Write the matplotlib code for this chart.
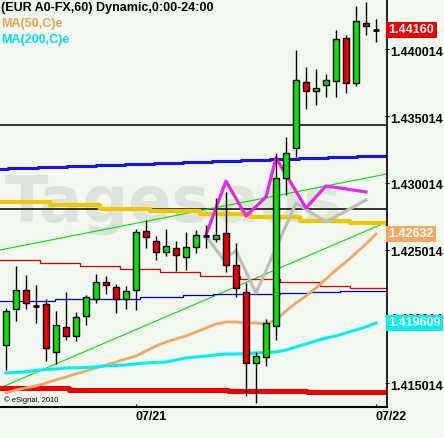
import matplotlib
matplotlib.use('Agg')
import matplotlib.pyplot as plt
import matplotlib.transforms as mtransforms
import numpy as np

# EUR A0-FX hourly candles (07/20 10:00 .. 07/22 00:00)
opens = [1.41788, 1.42058, 1.42200, 1.42080, 1.42095, 1.41735, 1.41923, 1.41855, 1.42005, 1.42132,
         1.42260, 1.42222, 1.42132, 1.42200, 1.42642, 1.42567, 1.42485, 1.42514, 1.42447, 1.42522,
         1.42604, 1.42582, 1.42627, 1.42387, 1.42185, 1.41653, 1.41698, 1.41930, 1.43039, 1.43264,
         1.43758, 1.43691, 1.43735, 1.43765, 1.44088, 1.43750, 1.44200, 1.44148]
highs = [1.42065, 1.42380, 1.42312, 1.42237, 1.42132, 1.42043, 1.42185, 1.42035, 1.42162, 1.42320,
         1.42305, 1.42245, 1.42230, 1.42657, 1.42724, 1.42604, 1.42657, 1.42567, 1.42634, 1.42649,
         1.42687, 1.42889, 1.42934, 1.42552, 1.42252, 1.41735, 1.41983, 1.43226, 1.43346, 1.43998,
         1.43870, 1.43855, 1.43818, 1.44148, 1.44110, 1.44327, 1.44357, 1.44230]
lows = [1.41601, 1.41968, 1.42058, 1.41953, 1.41668, 1.41646, 1.41825, 1.41818, 1.41938, 1.42102,
        1.42170, 1.42028, 1.42058, 1.42050, 1.42514, 1.42425, 1.42455, 1.42342, 1.42350, 1.42477,
        1.42514, 1.42559, 1.42335, 1.42147, 1.41406, 1.41353, 1.41631, 1.41825, 1.42912, 1.43196,
        1.43556, 1.43586, 1.43646, 1.43646, 1.43676, 1.43728, 1.44110, 1.44058]
closes = [1.42043, 1.42200, 1.42102, 1.42080, 1.41765, 1.41938, 1.41855, 1.41998, 1.42147, 1.42260,
          1.42237, 1.42132, 1.42192, 1.42634, 1.42597, 1.42485, 1.42529, 1.42462, 1.42522, 1.42612,
          1.42604, 1.42612, 1.42387, 1.42215, 1.41653, 1.41705, 1.41953, 1.43039, 1.43226, 1.43773,
          1.43691, 1.43713, 1.43773, 1.44080, 1.43750, 1.44215, 1.44177, 1.44148]

ma50 = [1.41428, 1.41451, 1.41466, 1.41481, 1.41503, 1.41526, 1.41548, 1.41571, 1.41593, 1.41616,
        1.41638, 1.41661, 1.41683, 1.41705, 1.41743, 1.41780, 1.41810, 1.41833, 1.41855, 1.41885,
        1.41915, 1.41945, 1.41960, 1.41960, 1.41953, 1.41953, 1.41945, 1.41975, 1.42043, 1.42102,
        1.42155, 1.42215, 1.42282, 1.42350, 1.42410, 1.42477, 1.42544, 1.42619]
ma200 = [1.41578, 1.41582, 1.41586, 1.41597, 1.41604, 1.41608, 1.41616, 1.41616, 1.41619, 1.41623,
         1.41631, 1.41634, 1.41638, 1.41646, 1.41653, 1.41657, 1.41660, 1.41675, 1.41690, 1.41698,
         1.41705, 1.41713, 1.41720, 1.41720, 1.41724, 1.41728, 1.41732, 1.41735, 1.41750, 1.41773,
         1.41795, 1.41818, 1.41840, 1.41855, 1.41878, 1.41900, 1.41923, 1.41953]

# higher timeframe averages (stepped)
blue_x = [-0.6, 0.2, 3.2, 6.1, 9.0, 11.9, 14.8, 17.7, 20.6, 23.5, 26.4, 29.3, 32.2, 35.1, 38.1]
blue_y = [1.43109, 1.43116, 1.43124, 1.43129, 1.43136, 1.43141, 1.43149, 1.43159, 1.43168, 1.43177,
          1.43183, 1.43191, 1.43198, 1.43206, 1.43206]
red_x = [-0.6, 6.3, 14.2, 22.2, 30.1, 38.1]
red_y = [1.41462, 1.41454, 1.41451, 1.41443, 1.41436, 1.41436]
yellow_x = [-0.6, 4.4, 9.4, 14.4, 19.4, 24.4, 29.4, 34.4, 38.1]
yellow_y = [1.42857, 1.42837, 1.42807, 1.42792, 1.42769, 1.42743, 1.42720, 1.42702, 1.42690]
thinred_x = [-0.6, 3.4, 7.4, 11.4, 15.4, 19.4, 23.4, 27.4, 31.4, 34.4, 38.1]
thinred_y = [1.42422, 1.42404, 1.42380, 1.42355, 1.42331, 1.42308, 1.42280, 1.42258, 1.42232, 1.42213, 1.42204]
thinblue_x = [-0.6, 4.9, 13.4, 17.7, 20.7, 24.4, 27.4, 30.4, 33.4, 38.1]
thinblue_y = [1.42120, 1.42130, 1.42145, 1.42160, 1.42168, 1.42170, 1.42180, 1.42187, 1.42195, 1.42204]

# trend lines / drawings
green_hi = ([-0.6, 38.1], [1.42499, 1.43069])
green_lo = ([-0.6, 38.1], [1.41466, 1.42709])
hlines = [1.43436, 1.42807]
magenta_x = [20, 22, 24, 26, 27, 30, 32, 36]
magenta_y = [1.42612, 1.43016, 1.42754, 1.42896, 1.43189, 1.42814, 1.42979, 1.42934]
gray_x = [20, 21.7, 23, 25, 29, 32, 36]
gray_y = [1.42604, 1.42432, 1.42492, 1.42177, 1.42851, 1.42709, 1.42874]

yticks = [1.415014, 1.420014, 1.425014, 1.430014, 1.435014, 1.440014]
xtick_pos = [13, 37]
xtick_labels = ['07/21', '07/22']
tags = ['1.44160', '1.42632', '1.419609']

BG = '#f2f7f0'
GREEN = '#00e600'
RED = '#ee0000'
ORANGE = '#f2a862'
CYAN = '#00f0f0'

plt.rcParams['font.family'] = ['Liberation Sans', 'DejaVu Sans']

fig = plt.figure(figsize=(4.44, 4.38), dpi=100, facecolor=BG)
ax = fig.add_axes([0, 31 / 438, 387 / 444, 407 / 438], facecolor=BG)

# watermark
ax.text(0.012, 0.455, 'Tages', transform=ax.transAxes, fontsize=46, fontweight='bold',
        family='DejaVu Sans', color='#dde2dd', zorder=0)
ax.text(0.556, 0.455, 'aus', transform=ax.transAxes, fontsize=46, fontweight='bold',
        family='DejaVu Sans', color='#dbe8d3', zorder=0)

for y in hlines:
    ax.axhline(y, color='black', lw=1.1, zorder=1)

ax.plot(*green_hi, color='#00e000', lw=0.8, zorder=2)
ax.plot(*green_lo, color='#00e000', lw=0.8, zorder=2)
ax.plot(thinred_x, thinred_y, color='#e00000', lw=0.9, drawstyle='steps-post', zorder=2)
ax.plot(thinblue_x, thinblue_y, color='#0000dd', lw=0.9, drawstyle='steps-post', zorder=2)
ax.plot(blue_x, blue_y, color='#1414f0', lw=2.2, drawstyle='steps-post', zorder=2)
ax.plot(yellow_x, yellow_y, color='#f0c800', lw=3.0, drawstyle='steps-post', zorder=2)
ax.plot(red_x, red_y, color='#f00000', lw=3.6, drawstyle='steps-post', zorder=2)

x = np.arange(len(opens))
ax.plot(x, ma50, color=ORANGE, lw=2.0, zorder=3)
ax.plot(x, ma200, color=CYAN, lw=2.2, zorder=3)
ax.plot(gray_x, gray_y, color='#bebebe', lw=2.3, zorder=3)
ax.plot(magenta_x, magenta_y, color='#ee22ee', lw=2.3, zorder=3)

# candles
o, h, l, c = map(np.array, (opens, highs, lows, closes))
up = c > o
dn = c < o
flat = c == o
ax.vlines(x, l, h, color='black', lw=1, zorder=4)
ax.bar(x[up], (c - o)[up], bottom=o[up], width=0.6, color=GREEN, edgecolor='black', lw=1, zorder=5)
ax.bar(x[dn], (o - c)[dn], bottom=c[dn], width=0.6, color=RED, edgecolor='black', lw=1, zorder=5)
ax.hlines(o[flat], x[flat] - 0.3, x[flat] + 0.3, color='black', lw=2, zorder=5)

ax.set_xlim(-0.6, 38.1)
ax.set_ylim(1.41323, 1.443722)

for s in ['top', 'left']:
    ax.spines[s].set_visible(False)
ax.spines['right'].set_linewidth(1.2)
ax.spines['bottom'].set_linewidth(1.5)

ax.yaxis.tick_right()
ax.set_yticks(yticks)
ax.set_yticklabels([f'{v:.6f}' for v in yticks], fontsize=9, fontweight='bold')
ax.tick_params(axis='y', direction='inout', length=3, pad=1)
shift = mtransforms.ScaledTranslation(0, -2 / 100, fig.dpi_scale_trans)
for lab in ax.get_yticklabels():
    lab.set_transform(lab.get_transform() + shift)

ax.set_xticks(xtick_pos)
ax.set_xticklabels(xtick_labels, fontsize=9, fontweight='bold', ha='left')
ax.tick_params(axis='x', direction='in', length=2, pad=3)

# price tags on right axis
tag_vals = [closes[-1], ma50[-1], ma200[-1]]
tag_cols = [RED, ORANGE, CYAN]
trans = mtransforms.blended_transform_factory(ax.transAxes, ax.transData)
for txt, v, col in zip(tags, tag_vals, tag_cols):
    ax.text(1.004, v, txt, transform=trans, fontsize=9, fontweight='bold', color='white',
            ha='left', va='center', zorder=10, clip_on=False,
            bbox=dict(boxstyle='square,pad=0.18', facecolor=col, edgecolor='none'))

fig.text(1 / 444, 1 - 8 / 438, '(EUR A0-FX,60) Dynamic,0:00-24:00', fontsize=9, fontweight='bold',
         va='center', ha='left')
fig.text(1 / 444, 1 - 24 / 438, 'MA(50,C)e', fontsize=9, fontweight='bold', color='#f0a050',
         va='center', ha='left')
fig.text(1 / 444, 1 - 40 / 438, 'MA(200,C)e', fontsize=9, fontweight='bold', color='#00e4e4',
         va='center', ha='left')
fig.text(4 / 444, 1 - 400 / 438, '\u00a9 eSignal, 2010', fontsize=5.5, va='center', ha='left')

fig.savefig('out.png', dpi=100, facecolor=BG)
